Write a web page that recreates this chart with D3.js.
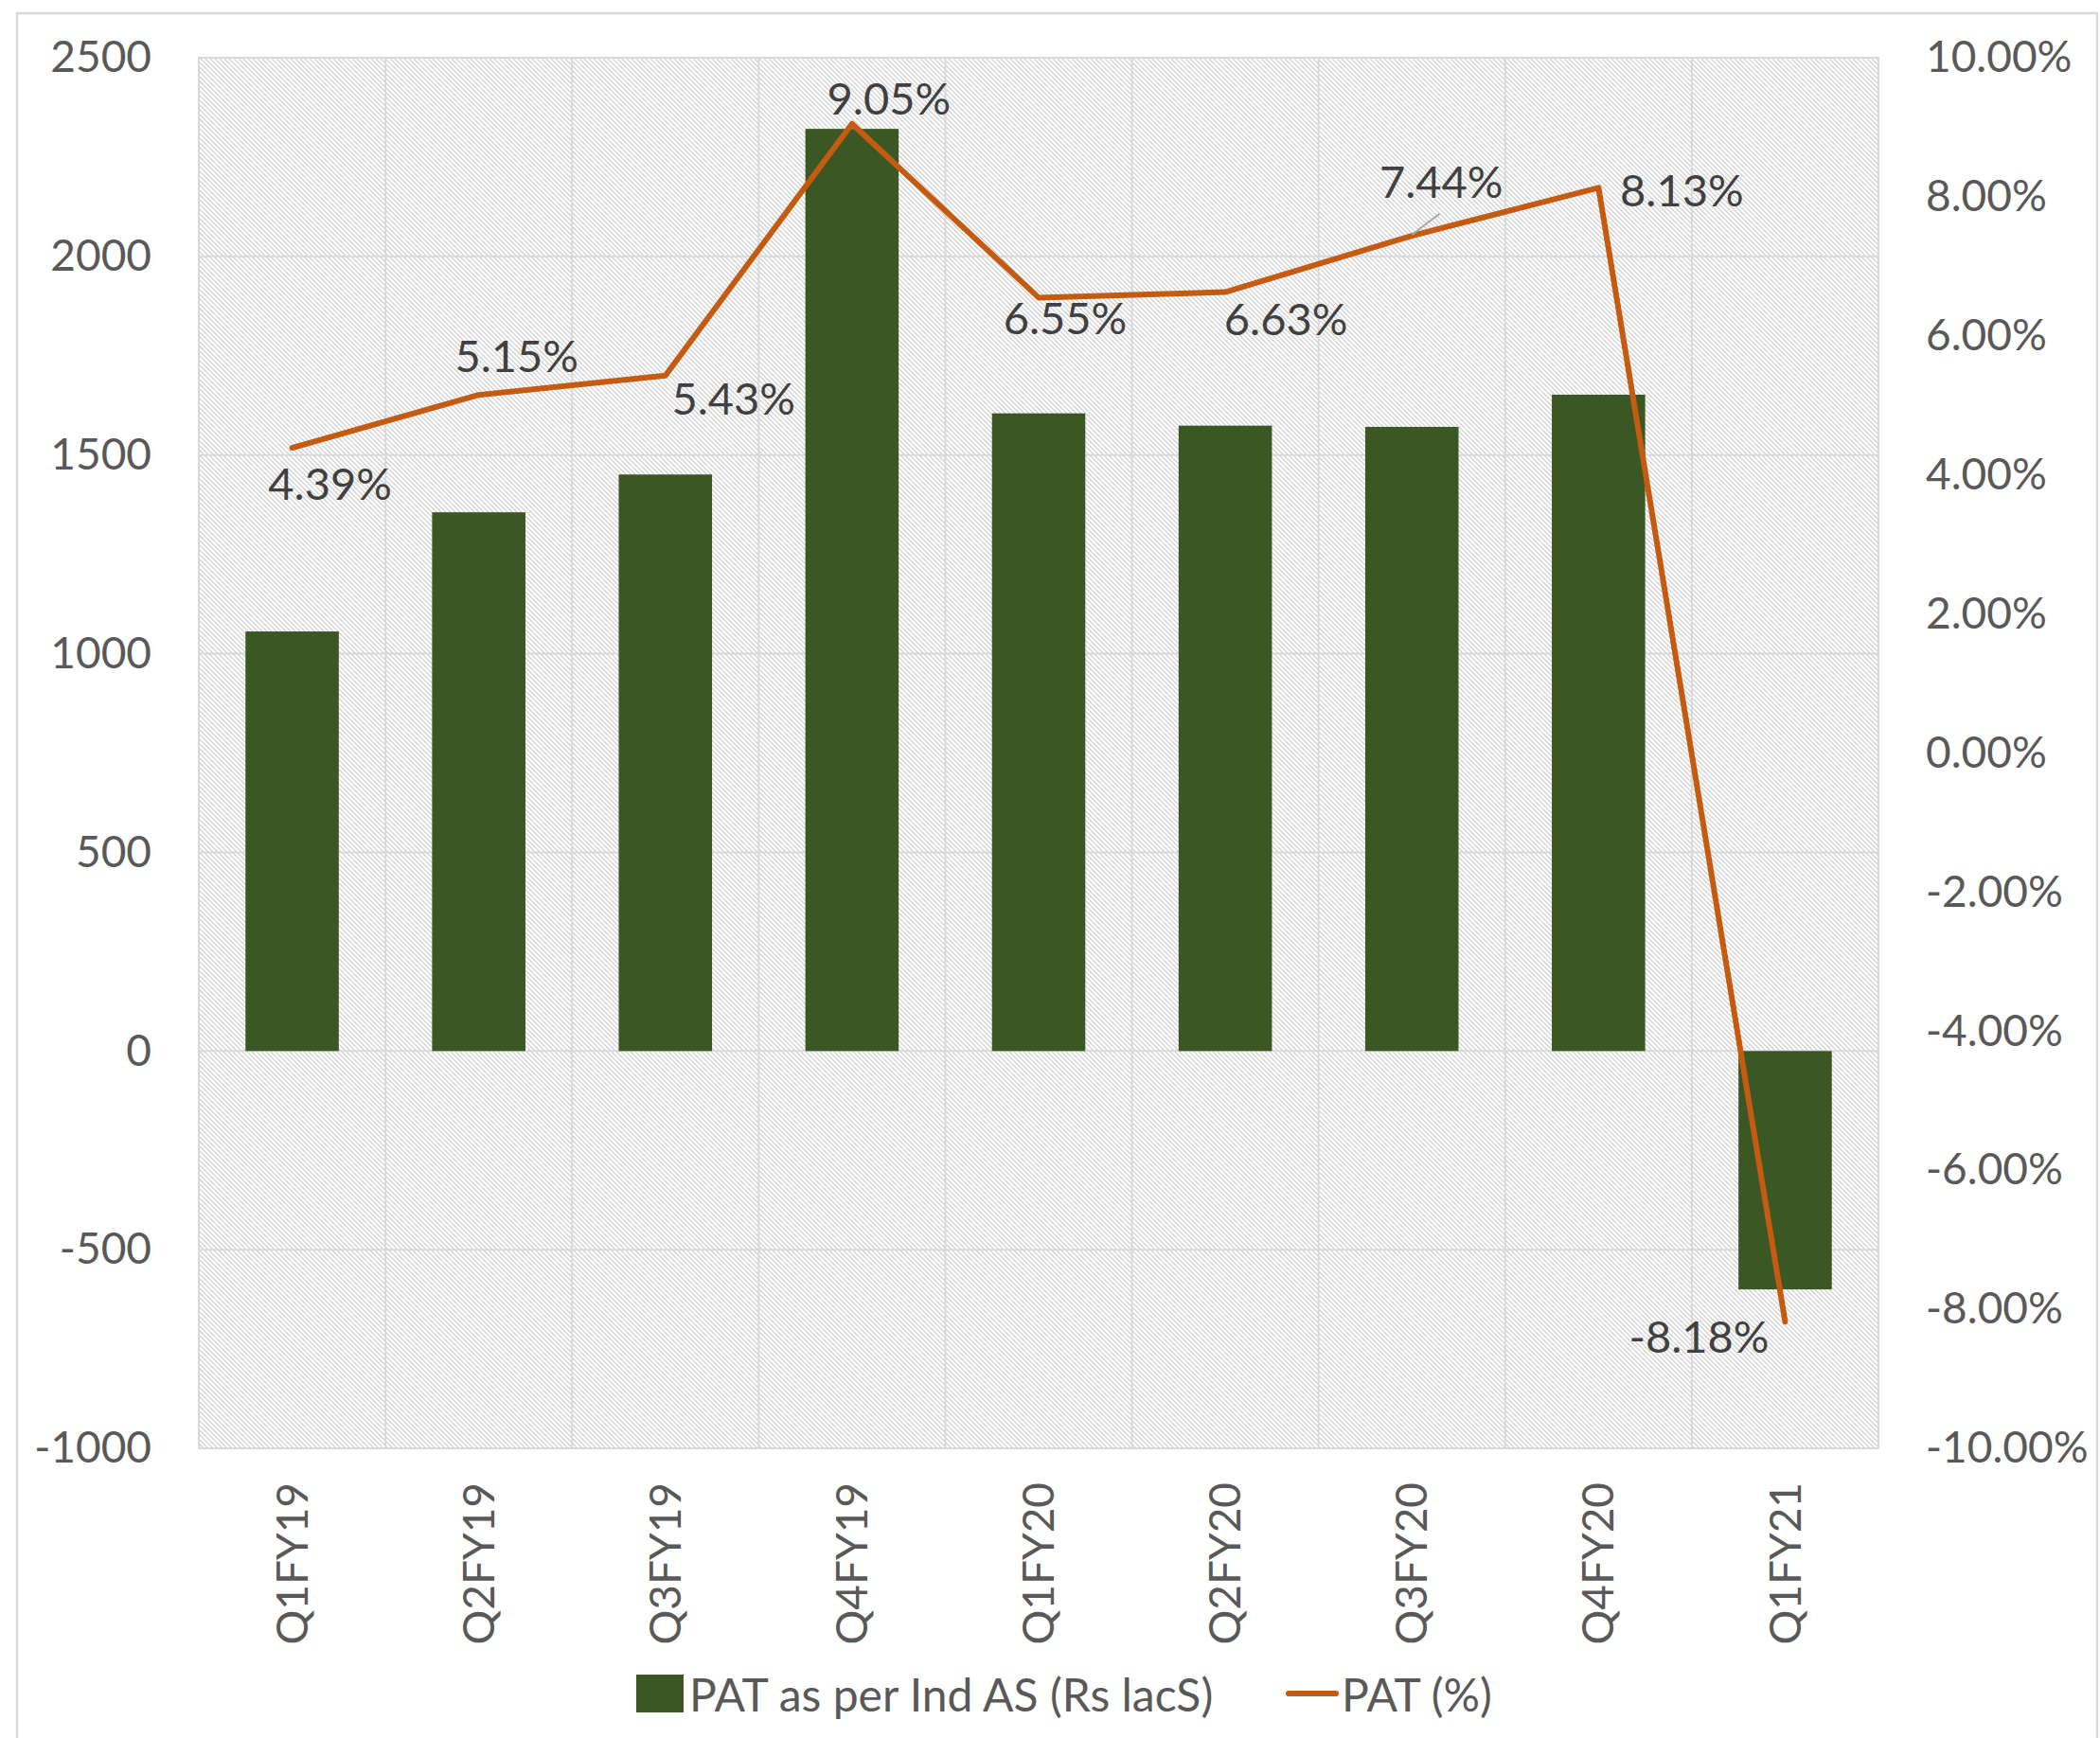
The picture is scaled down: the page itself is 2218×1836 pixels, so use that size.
<!DOCTYPE html>
<html>
<head>
<meta charset="utf-8">
<script src="https://cdn.jsdelivr.net/npm/d3@7"></script>
<style>
  body { margin: 0; background: #fff; }
  svg { font-family: Lato, Carlito, Calibri, sans-serif; }
</style>
</head>
<body>
<svg id="chart" width="2218" height="1836"></svg>
<script>
// quarters on the x axis
const categories = ["Q1FY19", "Q2FY19", "Q3FY19", "Q4FY19", "Q1FY20", "Q2FY20", "Q3FY20", "Q4FY20", "Q1FY21"];
// PAT as per Ind AS (Rs lacs) - bars, left axis
const patValues = [1056, 1356, 1451, 2321, 1605, 1574, 1571, 1652, -600];
// PAT (%) - line, right axis
const patPercent = [4.39, 5.15, 5.43, 9.05, 6.55, 6.63, 7.44, 8.13, -8.18];
// tick values
const leftTicks = [-1000, -500, 0, 500, 1000, 1500, 2000, 2500];
const rightTicks = [-10, -8, -6, -4, -2, 0, 2, 4, 6, 8, 10];
const seriesNames = ["PAT as per Ind AS (Rs lacS)", "PAT (%)"];

// label nudges (px) copied from the hand-placed labels of the original
const labelNudge = [[40, 37], [40, -42], [72, 23], [39, -28], [28, 21], [64, 27], [31, -58], [88, 2], [-91, 15]];

const barColor = "#3a5724";
const lineColor = "#c55a11";
const gridColor = "#d9d9d9";

const svg = d3.select("#chart");
const plot = { left: 210, right: 1984, top: 61, bottom: 1530 };

const loc = d3.formatLocale({ decimal: ".", thousands: ",", grouping: [3], currency: ["", ""], minus: "-" });
const fmtInt = loc.format("d");
const fmtPct = loc.format(".2f");

// hatch pattern for plot background
const defs = svg.append("defs");
const pat = defs.append("pattern").attr("id", "hatch")
  .attr("patternUnits", "userSpaceOnUse").attr("width", 5).attr("height", 5);
pat.append("rect").attr("width", 5).attr("height", 5).attr("fill", "#fff");
pat.append("path").attr("d", "M0,0L5,5M-1,4L1,6M4,-1L6,1")
  .attr("stroke", "#cccccc").attr("stroke-width", 1.2);

// outer chart border
svg.append("rect").attr("x", 18).attr("y", 14).attr("width", 2197).attr("height", 1840)
  .attr("fill", "#fff").attr("stroke", gridColor).attr("stroke-width", 2.5);

// scales
let x = d3.scaleBand().domain(categories).range([plot.left, plot.right]).paddingInner(0.5).paddingOuter(0.25);
let yL = d3.scaleLinear().domain([-1000, 2500]).range([plot.bottom, plot.top]);
let yR = d3.scaleLinear().domain([-10, 10]).range([plot.bottom, plot.top]);
const step = x.step();

svg.append("rect").attr("x", plot.left).attr("y", plot.top)
  .attr("width", plot.right - plot.left).attr("height", plot.bottom - plot.top)
  .attr("fill", "url(#hatch)");

// gridlines
svg.append("g").selectAll("line").data(leftTicks).join("line")
  .attr("x1", plot.left).attr("x2", plot.right)
  .attr("y1", d => yL(d)).attr("y2", d => yL(d))
  .attr("stroke", gridColor).attr("stroke-width", 2);
svg.append("g").selectAll("line").data(d3.range(categories.length + 1)).join("line")
  .attr("x1", i => plot.left + i * step).attr("x2", i => plot.left + i * step)
  .attr("y1", plot.top).attr("y2", plot.bottom)
  .attr("stroke", gridColor).attr("stroke-width", 2);
svg.append("rect").attr("x", plot.left).attr("y", plot.top)
  .attr("width", plot.right - plot.left).attr("height", plot.bottom - plot.top)
  .attr("fill", "none").attr("stroke", gridColor).attr("stroke-width", 2);

// bars
svg.append("g").selectAll("rect").data(patValues).join("rect")
  .attr("x", (d, i) => x(categories[i]))
  .attr("width", x.bandwidth())
  .attr("y", d => yL(Math.max(0, d)))
  .attr("height", d => Math.abs(yL(d) - yL(0)))
  .attr("fill", barColor);

// line
const line = d3.line()
  .x((d, i) => x(categories[i]) + x.bandwidth() / 2)
  .y(d => yR(d));
svg.append("path").datum(patPercent)
  .attr("d", line).attr("fill", "none")
  .attr("stroke", lineColor).attr("stroke-width", 6)
  .attr("stroke-linejoin", "round").attr("stroke-linecap", "round");

// leader line for 7.44%
const li = 6;
const px = x(categories[li]) + x.bandwidth() / 2, py = yR(patPercent[li]);
svg.append("line").attr("x1", px).attr("y1", py - 1)
  .attr("x2", px + 29).attr("y2", py - 23)
  .attr("stroke", "#a6a6a6").attr("stroke-width", 2);

// data labels
svg.append("g").selectAll("text").data(patPercent).join("text")
  .attr("x", (d, i) => x(categories[i]) + x.bandwidth() / 2 + labelNudge[i][0])
  .attr("y", (d, i) => yR(d) + labelNudge[i][1])
  .attr("text-anchor", "middle").attr("dominant-baseline", "central")
  .attr("font-size", 47).attr("fill", "#404040")
  .text(d => fmtPct(d) + "%");

// axes
const axisLeft = d3.axisLeft(yL).tickValues(leftTicks).tickSize(0).tickPadding(50).tickFormat(fmtInt);
const gL = svg.append("g").attr("transform", `translate(${plot.left},0)`).call(axisLeft);
const axisRight = d3.axisRight(yR).tickValues(rightTicks).tickSize(0).tickPadding(50).tickFormat(d => fmtPct(d) + "%");
const gR = svg.append("g").attr("transform", `translate(${plot.right},0)`).call(axisRight);
const axisBottom = d3.axisBottom(x).tickSize(0).tickPadding(0);
const gB = svg.append("g").attr("transform", `translate(0,${plot.bottom})`).call(axisBottom);
gB.selectAll("text")
  .attr("transform", "translate(0,36) rotate(-90)")
  .attr("x", 0).attr("y", 0).attr("dy", "0.35em")
  .attr("text-anchor", "end");
[gL, gR, gB].forEach(g => {
  g.select(".domain").remove();
  g.selectAll("text").attr("font-size", 46).attr("fill", "#595959");
  g.attr("font-family", null);
});

// legend
const leg = svg.append("g").attr("transform", "translate(0,1789)");
leg.append("rect").attr("x", 672).attr("y", -20).attr("width", 50).attr("height", 40).attr("fill", barColor);
leg.append("text").attr("x", 728).attr("y", 0).attr("dominant-baseline", "central")
  .attr("font-size", 48).attr("fill", "#595959").text(seriesNames[0]);
leg.append("line").attr("x1", 1361).attr("x2", 1411).attr("y1", 0).attr("y2", 0)
  .attr("stroke", lineColor).attr("stroke-width", 6).attr("stroke-linecap", "round");
leg.append("text").attr("x", 1417).attr("y", 0).attr("dominant-baseline", "central")
  .attr("font-size", 48).attr("fill", "#595959").text(seriesNames[1]);
</script>
</body>
</html>
